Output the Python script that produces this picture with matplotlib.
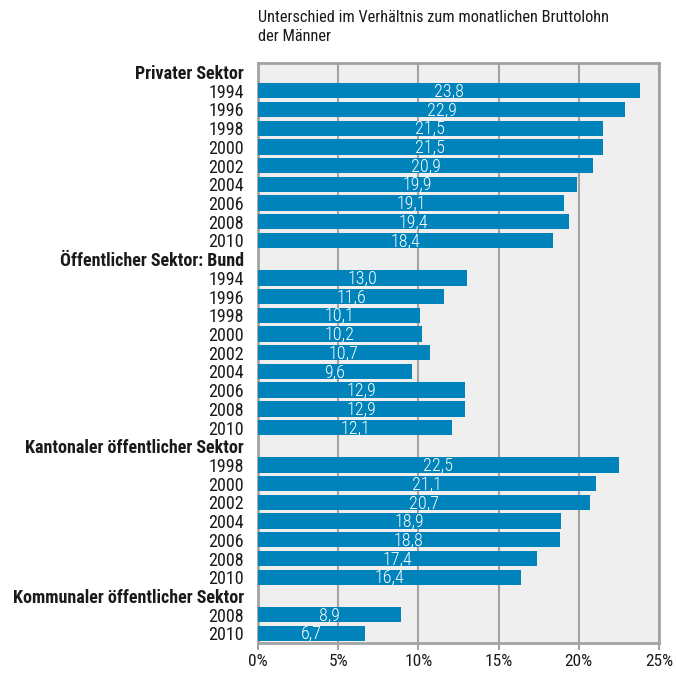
import matplotlib
matplotlib.use("Agg")
import matplotlib.pyplot as plt
from matplotlib import font_manager

# ---- data ----
sectors = ["Privater Sektor", "Öffentlicher Sektor: Bund",
           "Kantonaler öffentlicher Sektor", "Kommunaler öffentlicher Sektor"]
years_privat = ["1994", "1996", "1998", "2000", "2002", "2004", "2006", "2008", "2010"]
values_privat = [23.8, 22.9, 21.5, 21.5, 20.9, 19.9, 19.1, 19.4, 18.4]
years_bund = ["1994", "1996", "1998", "2000", "2002", "2004", "2006", "2008", "2010"]
values_bund = [13.0, 11.6, 10.1, 10.2, 10.7, 9.6, 12.9, 12.9, 12.1]
years_kanton = ["1998", "2000", "2002", "2004", "2006", "2008", "2010"]
values_kanton = [22.5, 21.1, 20.7, 18.9, 18.8, 17.4, 16.4]
years_gemeinde = ["2008", "2010"]
values_gemeinde = [8.9, 6.7]
x_ticks = [0, 5, 10, 15, 20, 25]
x_ticklabels = ["0%", "5%", "10%", "15%", "20%", "25%"]
title = "Unterschied im Verhältnis zum monatlichen Bruttolohn\nder Männer"

groups = [(sectors[0], years_privat, values_privat),
          (sectors[1], years_bund, values_bund),
          (sectors[2], years_kanton, values_kanton),
          (sectors[3], years_gemeinde, values_gemeinde)]

# ---- font: prefer a narrow sans if one is installed ----
fonts = font_manager.fontManager.ttflist
names = {f.name for f in fonts}
family, stretch, fs, tfs = None, "normal", 11.3, 10.9
for cand in ["Roboto Condensed", "Liberation Sans Narrow", "Open Sans Condensed",
             "Noto Sans Condensed", "Arial Narrow"]:
    if cand in names:
        family, fs, tfs = cand, 13.0, 11.8
        break
if family is None:
    for f in fonts:
        if f.name in ("DejaVu Sans", "Noto Sans", "Open Sans", "Roboto") and \
                str(f.stretch) in ("condensed", "semi-condensed", "75", "87.5"):
            family, stretch, fs, tfs = f.name, f.stretch, 11.5, 11.0
            break
if family is None:
    family = "Liberation Sans"
plt.rcParams["font.family"] = [family, "DejaVu Sans"]
plt.rcParams["font.stretch"] = stretch

BAR = "#0083BA"
BG = "#EFEFEF"
GRID = "#A3A3A3"
TXT = "#1a1a1a"

fig = plt.figure(figsize=(6.76, 6.73), dpi=100)
ax = fig.add_axes([258 / 676, 1 - 642.7 / 673, 401 / 676, 580 / 673])
ax.set_facecolor(BG)

labels, bold, ypos = [], [], []
row = 0
for name, yrs, vals in groups:
    labels.append(name); bold.append(True); ypos.append(row)
    row += 1
    for y, v in zip(yrs, vals):
        labels.append(y); bold.append(False); ypos.append(row)
        ax.barh(row, v, height=0.82, color=BAR, zorder=3)
        ax.text(v / 2, row + 0.05, f"{v:.1f}".replace(".", ","), color="white",
                ha="center", va="center", fontsize=fs, fontweight="light", zorder=4)
        row += 1

ax.set_ylim(row - 0.5, -0.5)
ax.set_xlim(0, 25)
ax.set_yticks(ypos)
ax.set_yticklabels(labels, fontsize=fs)
for t, b in zip(ax.get_yticklabels(), bold):
    if b:
        t.set_fontweight("bold")
ax.tick_params(axis="y", length=0, pad=10, colors=TXT)
ax.set_xticks(x_ticks)
ax.set_xticklabels(x_ticklabels, fontsize=fs - 0.5)
ax.tick_params(axis="x", length=5, width=1.5, color=GRID, pad=3, labelcolor=TXT)
ax.grid(axis="x", color=GRID, linewidth=1.5, zorder=1)
for s in ax.spines.values():
    s.set_color(GRID)
    s.set_linewidth(2)

fig.text(258 / 676, 1 - 10 / 673, title, ha="left", va="top", fontsize=tfs,
         color=TXT, linespacing=1.3)

fig.savefig("out.png", dpi=100, facecolor="white")
